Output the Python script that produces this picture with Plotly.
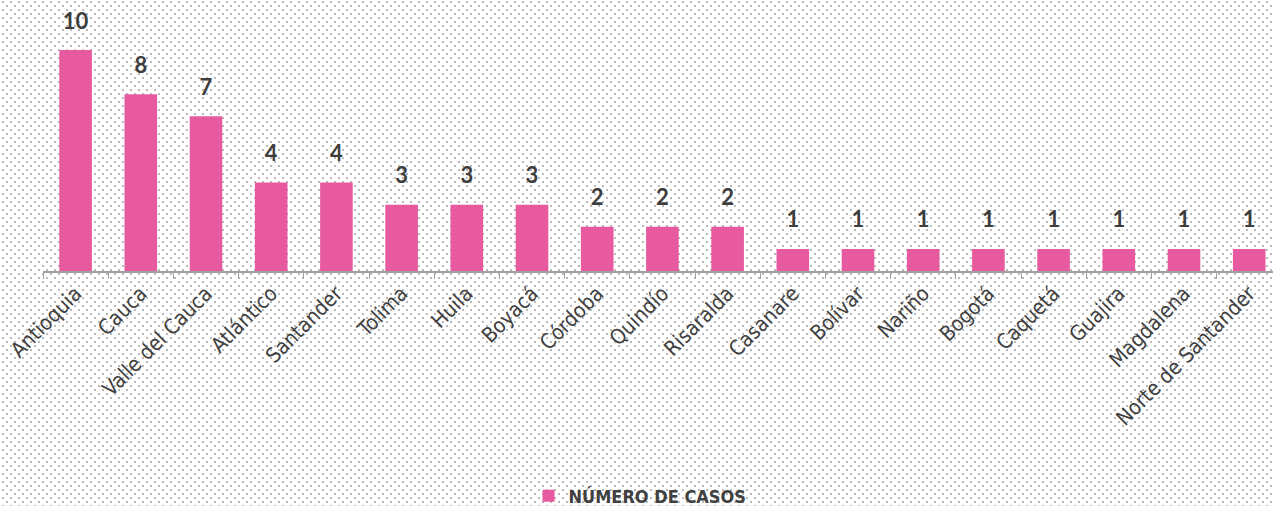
import base64
import plotly.graph_objects as go

categories = ["Antioquia", "Cauca", "Valle del Cauca", "Atlántico", "Santander", "Tolima",
              "Huila", "Boyacá", "Córdoba", "Quindío", "Risaralda", "Casanare", "Bolívar",
              "Nariño", "Bogotá", "Caquetá", "Guajira", "Magdalena", "Norte de Santander"]
values = [10, 8, 7, 4, 4, 3, 3, 3, 2, 2, 2, 1, 1, 1, 1, 1, 1, 1, 1]
series_name = "NÚMERO DE CASOS"

W, H = 1273, 506
ML, MR, MT, MB = 43, 0, 10, 235
PW, PH = W - ML - MR, H - MT - MB

svg = (
    f'<svg xmlns="http://www.w3.org/2000/svg" width="{W}" height="{H}">'
    '<defs><pattern id="p" width="8" height="8" patternUnits="userSpaceOnUse">'
    '<rect x="2" y="1" width="2" height="2" fill="#b9b9b9"/>'
    '<rect x="6" y="5" width="2" height="2" fill="#b9b9b9"/>'
    '</pattern></defs>'
    f'<rect width="{W}" height="{H}" fill="#ffffff"/>'
    f'<rect width="{W}" height="{H}" fill="url(#p)"/></svg>'
)
src = "data:image/svg+xml;base64," + base64.b64encode(svg.encode()).decode()

pink = "#E85A9F"
narrow = "Liberation Sans Narrow, DejaVu Sans Condensed, Roboto, sans-serif"

fig = go.Figure()
fig.add_trace(go.Bar(x=categories, y=values, marker=dict(color=pink, line=dict(width=0)),
                     name=series_name, showlegend=True))
fig.add_trace(go.Scatter(x=categories, y=values, mode="markers+text",
                         text=[str(v) for v in values], textposition="top center",
                         marker=dict(size=24, color="rgba(0,0,0,0)"),
                         textfont=dict(family="Lato, Open Sans, sans-serif", size=22, color="#3d3d3d", weight="bold"),
                         showlegend=False, hoverinfo="skip", cliponaxis=False))

fig.update_layout(
    width=W, height=H,
    margin=dict(l=ML, r=MR, t=MT, b=MB, autoexpand=False),
    paper_bgcolor="rgba(0,0,0,0)", plot_bgcolor="rgba(0,0,0,0)",
    bargap=0.5,
    images=[dict(source=src, xref="paper", yref="paper",
                 x=-ML / PW, y=1 + MT / PH, sizex=W / PW, sizey=H / PH,
                 xanchor="left", yanchor="top", sizing="stretch", layer="below")],
    xaxis=dict(range=[-0.5, 18.365], tickangle=-45, tickson="boundaries", automargin=False,
               ticks="outside", ticklen=6, tickcolor="#a0a0a0",
               showline=True, linecolor="#a0a0a0", linewidth=2, showgrid=False,
               tickfont=dict(family=narrow, size=21, color="#404040")),
    yaxis=dict(range=[0, (271 - MT) / 22.1], visible=False, showgrid=False, automargin=False),
    legend=dict(orientation="h", xref="paper", yref="paper", x=(640 - ML) / PW, y=(271 - 496) / PH,
                xanchor="center", yanchor="middle",
                font=dict(family=narrow, size=18, color="#404040", weight=600)),
    showlegend=True,
)
fig.write_html("out.html", config={"displayModeBar": False},
               post_script="document.body.style.margin='0';")
